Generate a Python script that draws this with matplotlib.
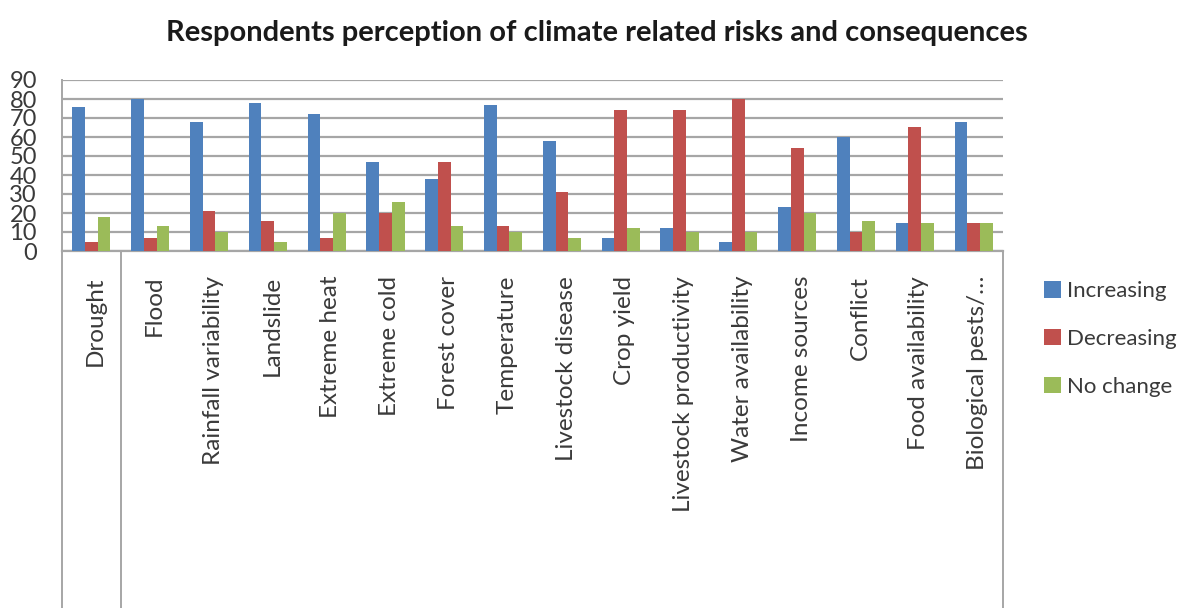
import numpy as np
import matplotlib.pyplot as plt
from matplotlib.transforms import blended_transform_factory

categories = ['Drought', 'Flood', 'Rainfall variability', 'Landslide', 'Extreme heat',
              'Extreme cold', 'Forest cover', 'Temperature', 'Livestock disease',
              'Crop yield', 'Livestock productivity', 'Water availability',
              'Income sources', 'Conflict', 'Food availability', 'Biological pests/\u2026']
increasing = [76, 80, 68, 78, 72, 47, 38, 77, 58, 7, 12, 5, 23, 60, 15, 68]
decreasing = [5, 7, 21, 16, 7, 20, 47, 13, 31, 74, 74, 80, 54, 10, 65, 15]
no_change = [18, 13, 10, 5, 20, 26, 13, 10, 7, 12, 10, 10, 20, 16, 15, 15]
series_names = ['Increasing', 'Decreasing', 'No change']

plt.rcParams['font.family'] = ['Lato', 'DejaVu Sans']
W, H = 1185, 608
fig = plt.figure(figsize=(W / 100, H / 100), dpi=100)
# plot area in pixels: x 62..1003, y 80 (=90) .. 251 (=0)
ax = fig.add_axes([62 / W, (H - 251) / H, (1003 - 62) / W, (251 - 80) / H])

x = np.arange(len(categories))
bw = 0.216
colors = ['#4f81bd', '#c0504d', '#9bbb59']
for k, vals in enumerate([increasing, decreasing, no_change]):
    ax.bar(x + (k - 1) * bw, vals, bw, color=colors[k], label=series_names[k], zorder=3)

ax.set_xlim(-0.5, len(categories) - 0.5)
ax.set_ylim(0, 90)
ax.set_yticks(np.arange(0, 91, 10))
ax.grid(axis='y', color='#a6a6a6', linewidth=1.6, zorder=0)
for s in ['top', 'right', 'bottom']:
    ax.spines[s].set_visible(False)
ax.spines['left'].set_color('#a6a6a6')
ax.spines['left'].set_linewidth(1.4)
ax.tick_params(axis='y', length=0, pad=18, labelsize=17, labelcolor='#3a3a3a')
ax.tick_params(axis='x', length=0)
ax.set_xticks(x)
ax.set_xticklabels([])

# category label area with its dividing lines
tr = blended_transform_factory(ax.transData, fig.transFigure)
ytop = (H - 251) / H
for xv in [-0.5, 0.5, len(categories) - 0.5]:
    ax.plot([xv, xv], [0, ytop], color='#a6a6a6', lw=1.4, transform=tr, clip_on=False)
ax.plot([-0.5, len(categories) - 0.5], [ytop, ytop], color='#a6a6a6', lw=1.6,
        transform=tr, clip_on=False)
for xi, name in zip(x, categories):
    ax.text(xi + 0.07, (H - 276) / H, name, transform=tr, rotation=90,
            ha='center', va='top', fontsize=17.5, color='#3a3a3a')

fig.text(597 / W, 1 - 33 / H, 'Respondents perception of climate related risks and consequences',
         ha='center', va='center', fontsize=21, fontweight='bold', color='#1a1a1a')

fig.legend(loc='center left', bbox_to_anchor=(1024 / W, 1 - 339 / H), frameon=False,
           fontsize=16, handlelength=0.75, handleheight=0.75, handletextpad=0.3,
           labelspacing=1.25, labelcolor='#3a3a3a')

fig.savefig('out.png', dpi=100)
